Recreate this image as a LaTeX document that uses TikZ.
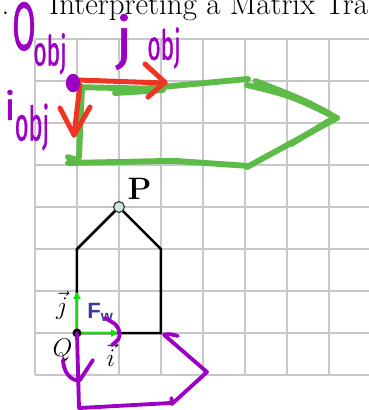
\documentclass[tikz,border=0pt]{standalone}
\usepackage{amsmath}
\usepackage{fontspec}
\newfontfamily\inkfont{Fira Sans}[FakeBold=1.2]
\newfontfamily\framefont{Liberation Sans}
\usetikzlibrary{arrows.meta}
\definecolor{inkpurple}{HTML}{9B00C4}
\definecolor{inkgreen}{HTML}{5DBB47}
\definecolor{inkred}{HTML}{EE3524}
\definecolor{vecgreen}{HTML}{11DD11}
\definecolor{framecol}{HTML}{3C3C9C}
\definecolor{gridcol}{HTML}{C8C8C8}
\definecolor{pointfill}{HTML}{CFE3E3}

\begin{document}
\begin{tikzpicture}[
  gridline/.style={draw=gridcol, line width=1.5pt},
  houseline/.style={line width=1.7pt, line join=round},
  vecarrow/.style={draw=vecgreen, line width=1.7pt, -{Triangle[length=5pt,width=5pt]}},
  greenink/.style={draw=inkgreen, line width=4pt, line cap=round, line join=round},
  redink/.style={draw=inkred, line width=3.4pt, line cap=round, line join=round},
  purpleink/.style={draw=inkpurple, line width=2.6pt, line cap=round, line join=round},
  inklabel/.style={text=inkpurple, inner sep=0pt},
  mathlabel/.style={inner sep=0pt, font=\fontsize{19}{22}\selectfont}
]
\useasboundingbox (-0.833,-0.833) rectangle (7.952,8.929);
\clip (-0.833,-0.833) rectangle (7.952,8.929);
% ---- title (cut off by the page) ----
\node[anchor=base west, inner sep=0pt, font=\fontsize{21}{25}\selectfont] (title) at (-1.143,8.595)
  {2.\hspace{27pt}Interpreting a Matrix Transformation};
% ---- grid ----
\foreach \x in {0,...,8} \draw[gridline] (\x,0) -- (\x,8);
\foreach \y in {0,...,8} \draw[gridline] (0,\y) -- (8.3,\y);
% ---- house ----
\coordinate (Q) at (1,1);
\draw[houseline] (Q) -- (1,3) -- (2,4) -- (3,3) -- (3,1) -- cycle;
\draw[vecarrow] (Q) -- (1,1.98);
\draw[vecarrow] (Q) -- (1.98,1);
\fill (Q) circle (0.107);
\filldraw[fill=pointfill, draw=black!80, line width=0.8pt] (2,4) circle (0.13);
\node[inner sep=0pt, font=\fontsize{21}{25}\selectfont\bfseries] (plabel) at (2.488,4.43) {P};
\node[mathlabel] (qlabel) at (0.655,0.6) {$Q$};
\node[mathlabel] (jlabel) at (0.643,1.66) {$\vec{j}$};
\node[mathlabel] (ilabel) at (1.81,0.48) {$\vec{i}$};
\node[anchor=base west, inner sep=0pt, text=framecol, font=\fontsize{15}{18}\selectfont\framefont\bfseries]
  (frame) at (1.238,1.357) {F\textsubscript{w}};
% ---- green arrow shape ----
\draw[greenink] (0.881,6.857) -- (2.6,6.82) -- (5.071,7.048);
\draw[greenink] (1.905,6.714) -- (3.048,6.786);
\draw[greenink] (5.048,6.905) .. controls (6.1,6.65) .. (7.19,6.12);
\draw[greenink] (5.25,7.0) .. controls (6.4,6.55) .. (7.05,6.2);
\draw[greenink] (7.19,6.12) -- (5.048,4.952);
\draw[greenink] (7.0,6.05) -- (6.1,5.5);
\draw[greenink] (0.786,5.048) -- (3.3,5.1) -- (5.048,4.98);
\draw[greenink] (1.119,6.833) -- (1.048,5.19);
\draw[greenink] (0.786,5.19) -- (1.05,5.1);
% ---- red axes of the object ----
\draw[redink] (1.024,7.024) -- (3.095,6.952);
\draw[redink] (2.619,7.405) -- (3.095,6.97) -- (2.69,6.619);
\draw[redink] (1.071,6.905) -- (0.929,5.714);
\draw[redink] (0.595,6.357) -- (0.929,5.714) -- (1.31,6.381);
\fill[inkpurple] (0.905,6.952) ellipse (0.17 and 0.22);
% ---- purple notes ----
\node[inklabel, xscale=0.5, font=\fontsize{46}{46}\selectfont\inkfont] (oobj) at (-0.262,8.3) {O};
\node[inklabel, xscale=0.55, font=\fontsize{28}{28}\selectfont\inkfont] (oobjsub) at (0.357,7.65) {obj};
\node[inklabel, font=\fontsize{38}{38}\selectfont\inkfont] (jobj) at (2.119,7.93) {j};
\node[inklabel, xscale=0.55, font=\fontsize{28}{28}\selectfont\inkfont] (jobjsub) at (3.071,7.786) {obj};
\node[inklabel, font=\fontsize{26}{26}\selectfont\inkfont] (iobj) at (-0.595,6.43) {i};
\node[inklabel, xscale=0.5, font=\fontsize{32}{32}\selectfont\inkfont] (iobjsub) at (-0.071,5.905) {obj};
% ---- purple house, turned ----
\draw[purpleink] (Q) -- (1.048,-0.786) -- (3.214,-0.667);
\draw[purpleink] (3.25,-0.55) -- (3.26,-0.69) -- (4.095,0.071) -- (3.07,0.96) .. controls (3.2,0.98) .. (3.4,0.93);
\draw[purpleink] (0.667,0.357) .. controls (0.7,-0.1) and (1.0,-0.15) .. (1.07,-0.119) -- (1.381,0.357);
\draw[purpleink] (1.667,1.357) .. controls (1.95,1.2) .. (2.02,1.0) .. controls (2.0,0.85) .. (1.83,0.71);
\end{tikzpicture}
\end{document}
